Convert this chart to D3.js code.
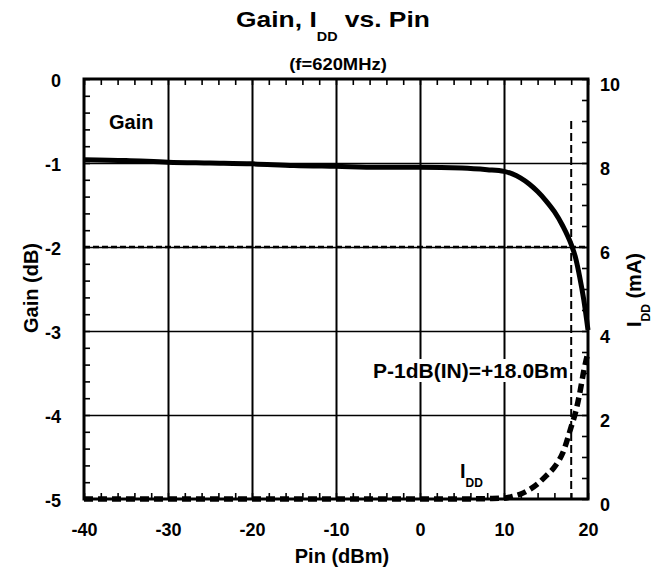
<!DOCTYPE html>
<html>
<head>
<meta charset="utf-8">
<script src="https://cdn.jsdelivr.net/npm/d3@7"></script>
<style>
  html, body { margin: 0; padding: 0; background: #fff; }
  svg text { font-family: "Liberation Sans", Arial, Helvetica, sans-serif; font-weight: bold; fill: #000; }
</style>
</head>
<body>
<svg id="chart" width="665" height="574"></svg>
<script>
// ---- data ----
const pin = [-40, -35, -30, -25, -20, -15, -10, -5, 0, 5, 8, 10, 11, 12, 13, 14, 15, 16, 17, 18, 18.5, 19, 19.5, 20];
const gain = [-0.96, -0.97, -0.99, -1.0, -1.01, -1.03, -1.04, -1.05, -1.05, -1.06, -1.08, -1.10, -1.13, -1.18, -1.25, -1.34, -1.45, -1.58, -1.75, -1.97, -2.12, -2.35, -2.63, -2.99];
const idd = [0, 0, 0, 0, 0, 0, 0, 0, 0, 0, 0.01, 0.02, 0.06, 0.12, 0.22, 0.36, 0.55, 0.76, 1.1, 1.72, 2.05, 2.5, 3.05, 3.5];
const xTicks = [-40, -30, -20, -10, 0, 10, 20];
const gainTicks = [0, -1, -2, -3, -4, -5];
const iddTicks = [0, 2, 4, 6, 8, 10];
const p1dbIn = 18.0;
const p1dbGain = -2;
const title = "Gain, I";
const titleSub = "DD";
const titleEnd = " vs. Pin";
const subtitle = "(f=620MHz)";
const xTitle = "Pin (dBm)";
const yTitle = "Gain (dB)";
const y2TitleMain = "I";
const y2TitleSub = "DD";
const y2TitleEnd = " (mA)";
const p1dbLabel = "P-1dB(IN)=+18.0Bm";

// ---- layout ----
const L = 84, R = 588, T = 79, B = 499;
const svg = d3.select("#chart");
const x = d3.scaleLinear().domain([-40, 20]).range([L, R]);
const yG = d3.scaleLinear().domain([-5, 0]).range([B, T]);
const yI = d3.scaleLinear().domain([0, 10]).range([B, T]);
const fmt = d => String(d);

// gridlines
const gx = svg.append("g").attr("transform", `translate(0,${B})`)
  .call(d3.axisBottom(x).tickValues([-30, -20, -10, 0, 10]).tickSize(-(B - T)).tickFormat(""));
gx.select(".domain").remove();
gx.selectAll("line").attr("stroke", "#000").attr("stroke-width", 2);
const gy = svg.append("g").attr("transform", `translate(${L},0)`)
  .call(d3.axisLeft(yG).tickValues([-1, -2, -3, -4]).tickSize(-(R - L)).tickFormat(""));
gy.select(".domain").remove();
gy.selectAll("line").attr("stroke", "#000").attr("stroke-width", 1.6);

// minor ticks (inward)
function minor(g) { g.select(".domain").remove(); g.selectAll("line").attr("stroke", "#000").attr("stroke-width", 1.6); }
svg.append("g").attr("transform", `translate(${L},0)`)
  .call(d3.axisLeft(yG).tickValues(d3.range(0, -5.01, -0.2)).tickSize(-6).tickFormat("")).call(minor);
svg.append("g").attr("transform", `translate(${R},0)`)
  .call(d3.axisRight(yI).tickValues(d3.range(0, 10.01, 0.5)).tickSize(-6).tickFormat("")).call(minor);
svg.append("g").attr("transform", `translate(0,${T})`)
  .call(d3.axisTop(x).tickValues(d3.range(-40, 20.01, 2)).tickSize(-6).tickFormat("")).call(minor);
svg.append("g").attr("transform", `translate(0,${B})`)
  .call(d3.axisBottom(x).tickValues(d3.range(-40, 20.01, 2)).tickSize(-6).tickFormat("")).call(minor);

// P-1dB label with white box
const pl = svg.append("g");
const pt = pl.append("text").attr("x", 373).attr("y", 378).attr("font-size", 21).text(p1dbLabel);
const bb = pt.node().getBBox();
pl.insert("rect", "text").attr("x", bb.x - 2).attr("y", bb.y).attr("width", bb.width + 4).attr("height", bb.height).attr("fill", "#fff");

// dashed reference lines
svg.append("line").attr("x1", L).attr("x2", R).attr("y1", yG(p1dbGain)).attr("y2", yG(p1dbGain))
  .attr("stroke", "#000").attr("stroke-width", 2.6).attr("stroke-dasharray", "6,3");
svg.append("line").attr("x1", x(p1dbIn)).attr("x2", x(p1dbIn)).attr("y1", yG(-0.5)).attr("y2", B)
  .attr("stroke", "#000").attr("stroke-width", 2).attr("stroke-dasharray", "8,4");

// frame
svg.append("rect").attr("x", L).attr("y", T).attr("width", R - L).attr("height", B - T)
  .attr("fill", "none").attr("stroke", "#000").attr("stroke-width", 3);

// curves
const gainLine = d3.line().x((d, i) => x(pin[i])).y(d => yG(d)).curve(d3.curveMonotoneX);
svg.append("path").attr("d", gainLine(gain)).attr("fill", "none").attr("stroke", "#000").attr("stroke-width", 5);
const iddLine = d3.line().x((d, i) => x(pin[i])).y(d => yI(d)).curve(d3.curveMonotoneX);
svg.append("path").attr("d", iddLine(idd)).attr("fill", "none").attr("stroke", "#000").attr("stroke-width", 5.5)
  .attr("stroke-dasharray", "9,5");

// tick labels
const ax = svg.append("g").attr("transform", `translate(0,${B})`)
  .call(d3.axisBottom(x).tickValues(xTicks).tickSize(0).tickPadding(24).tickFormat(fmt));
ax.select(".domain").remove();
ax.selectAll("text").attr("font-size", 18).attr("font-family", null);
const al = svg.append("g").attr("transform", `translate(${L},0)`)
  .call(d3.axisLeft(yG).tickValues(gainTicks).tickSize(0).tickPadding(23).tickFormat(fmt));
al.select(".domain").remove();
al.selectAll("text").attr("font-size", 18).attr("font-family", null).attr("dy", "0.4em");
const ar = svg.append("g").attr("transform", `translate(${R},0)`)
  .call(d3.axisRight(yI).tickValues(iddTicks).tickSize(0).tickPadding(12).tickFormat(fmt));
ar.select(".domain").remove();
ar.selectAll("text").attr("font-size", 18).attr("font-family", null).attr("dy", "0.62em");

// titles
const tt = svg.append("g").attr("transform", "translate(333,27) scale(1.2,1)")
  .append("text").attr("text-anchor", "middle").attr("font-size", 22);
tt.append("tspan").text(title);
tt.append("tspan").attr("font-size", 12).attr("dy", 14).text(titleSub);
tt.append("tspan").attr("dy", -14).text(titleEnd);
svg.append("g").attr("transform", "translate(338,70) scale(1.15,1)")
  .append("text").attr("text-anchor", "middle").attr("font-size", 16).text(subtitle);

svg.append("text").attr("x", 342).attr("y", 563).attr("text-anchor", "middle").attr("font-size", 20).text(xTitle);
svg.append("text").attr("transform", "translate(31,288) rotate(-90)").attr("text-anchor", "middle")
  .attr("dy", "0.35em").attr("font-size", 20).text(yTitle);
const y2 = svg.append("text").attr("transform", "translate(634,290) rotate(-90)").attr("text-anchor", "middle")
  .attr("dy", "0.35em").attr("font-size", 20);
y2.append("tspan").text(y2TitleMain);
y2.append("tspan").attr("font-size", 12).attr("dy", 9).text(y2TitleSub);
y2.append("tspan").attr("dy", -9).text(y2TitleEnd);

// in-plot labels
svg.append("text").attr("x", 109).attr("y", 129).attr("font-size", 20).text("Gain");
const il = svg.append("text").attr("x", 460).attr("y", 478).attr("font-size", 20);
il.append("tspan").text("I");
il.append("tspan").attr("font-size", 12).attr("dy", 9).text("DD");
</script>
</body>
</html>
